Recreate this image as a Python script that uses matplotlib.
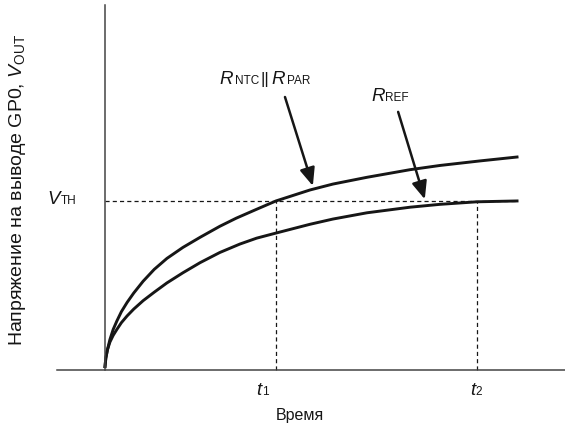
import matplotlib
matplotlib.use('Agg')
import matplotlib.pyplot as plt
from matplotlib.offsetbox import TextArea, HPacker, AnnotationBbox

plt.rcParams['font.family'] = ['Liberation Sans', 'DejaVu Sans']
plt.rcParams['mathtext.fontset'] = 'custom'
plt.rcParams['mathtext.rm'] = 'Liberation Sans'
plt.rcParams['mathtext.it'] = 'Liberation Sans:italic'

# charge curves (time, voltage; V_TH = 1)
t_ntc = [0.0, 0.02, 0.06, 0.12, 0.2, 0.29, 0.4, 0.54, 0.7, 0.93, 1.2, 1.51, 1.9, 2.32,
         2.8, 3.2, 3.7, 4.17, 5.0, 5.56, 6.39, 7.44, 8.17, 9.15, 10.05]
v_ntc = [0.02, 0.07, 0.12, 0.18, 0.24, 0.29, 0.345, 0.40, 0.455, 0.525, 0.595, 0.66, 0.725, 0.785,
         0.85, 0.898, 0.951, 1.0, 1.065, 1.10, 1.14, 1.185, 1.21, 1.237, 1.26]
t_ref = [0.0, 0.02, 0.06, 0.12, 0.2, 0.29, 0.4, 0.54, 0.7, 0.93, 1.2, 1.51, 1.9, 2.32,
         2.8, 3.29, 3.7, 4.17, 5.0, 5.56, 6.39, 7.44, 8.17, 9.07, 10.05]
v_ref = [0.02, 0.07, 0.12, 0.165, 0.205, 0.24, 0.28, 0.32, 0.36, 0.41, 0.46, 0.515, 0.575, 0.635,
         0.695, 0.745, 0.78, 0.81, 0.862, 0.893, 0.93, 0.963, 0.98, 0.995, 1.0]

v_th = 1.0
t1 = 4.17
t2 = 9.07
t_end = 10.05

ink = '#161616'

fig = plt.figure(figsize=(5.65, 4.32), dpi=100)
ax = fig.add_axes([0, 0, 1, 1])
ax.set_xlim(-2.561, 11.220)
ax.set_ylim(-0.367, 2.189)
ax.patch.set_visible(False)
ax.set_xticks([])
ax.set_yticks([])
for s in ['top', 'right']:
    ax.spines[s].set_visible(False)
ax.spines['left'].set_position(('data', 0))
ax.spines['left'].set_bounds(0, 2.16)
ax.spines['bottom'].set_position(('data', 0))
ax.spines['bottom'].set_bounds(-1.17, 11.22)
for s in ['left', 'bottom']:
    ax.spines[s].set_color('#444444')
    ax.spines[s].set_linewidth(1.1)

# threshold and crossing markers
dash = (0, (3.3, 2.5))
ax.plot([0, t_end], [v_th, v_th], color=ink, lw=0.9, linestyle=dash)
ax.plot([t1, t1], [0, v_th], color=ink, lw=0.9, linestyle=dash)
ax.plot([t2, t2], [0, v_th], color=ink, lw=0.9, linestyle=dash)

ax.plot(t_ntc, v_ntc, color=ink, lw=2.1, solid_joinstyle='round')
ax.plot(t_ref, v_ref, color=ink, lw=2.1, solid_joinstyle='round')

arrow = dict(arrowstyle='-|>,head_length=0.9,head_width=0.38', mutation_scale=12,
             lw=1.8, color=ink, shrinkA=0, shrinkB=0)
ax.annotate('', xy=(5.07, 1.089), xytext=(4.39, 1.615), arrowprops=arrow)
ax.annotate('', xy=(7.80, 1.01), xytext=(7.15, 1.527), arrowprops=arrow)


def sub_label(x, y, parts, sep=0.5):
    boxes = [TextArea(s, textprops=dict(fontsize=fs, style=st, color=ink)) for s, fs, st in parts]
    pack = HPacker(children=boxes, align='baseline', pad=0, sep=sep)
    ab = AnnotationBbox(pack, (x, y), xycoords='data', frameon=False,
                        box_alignment=(0.5, 0.5), pad=0)
    ax.add_artist(ab)


big, small = 13.5, 8.5
sub_label(3.90, 1.716, [('R', big, 'italic'), ('NTC', small, 'normal'),
                        ('||', 12, 'normal'), ('R', big, 'italic'), ('PAR', small, 'normal')], sep=1.5)
sub_label(6.95, 1.62, [('R', big, 'italic'), ('REF', small, 'normal')])
sub_label(-1.05, 1.006, [('V', big, 'italic'), ('TH', small, 'normal')])
sub_label(3.85, -0.124, [('t', big, 'italic'), ('1', small, 'normal')])
sub_label(9.05, -0.124, [('t', big, 'italic'), ('2', small, 'normal')])

ax.text(4.76, -0.272, 'Время', fontsize=11.5, ha='center', va='center', color=ink)
ax.text(-2.146, 1.065, 'Напряжение на выводе GP0, $V_{\\mathrm{OUT}}$', fontsize=14,
        rotation=90, ha='center', va='center', color=ink)

fig.savefig('out.png', dpi=100)
